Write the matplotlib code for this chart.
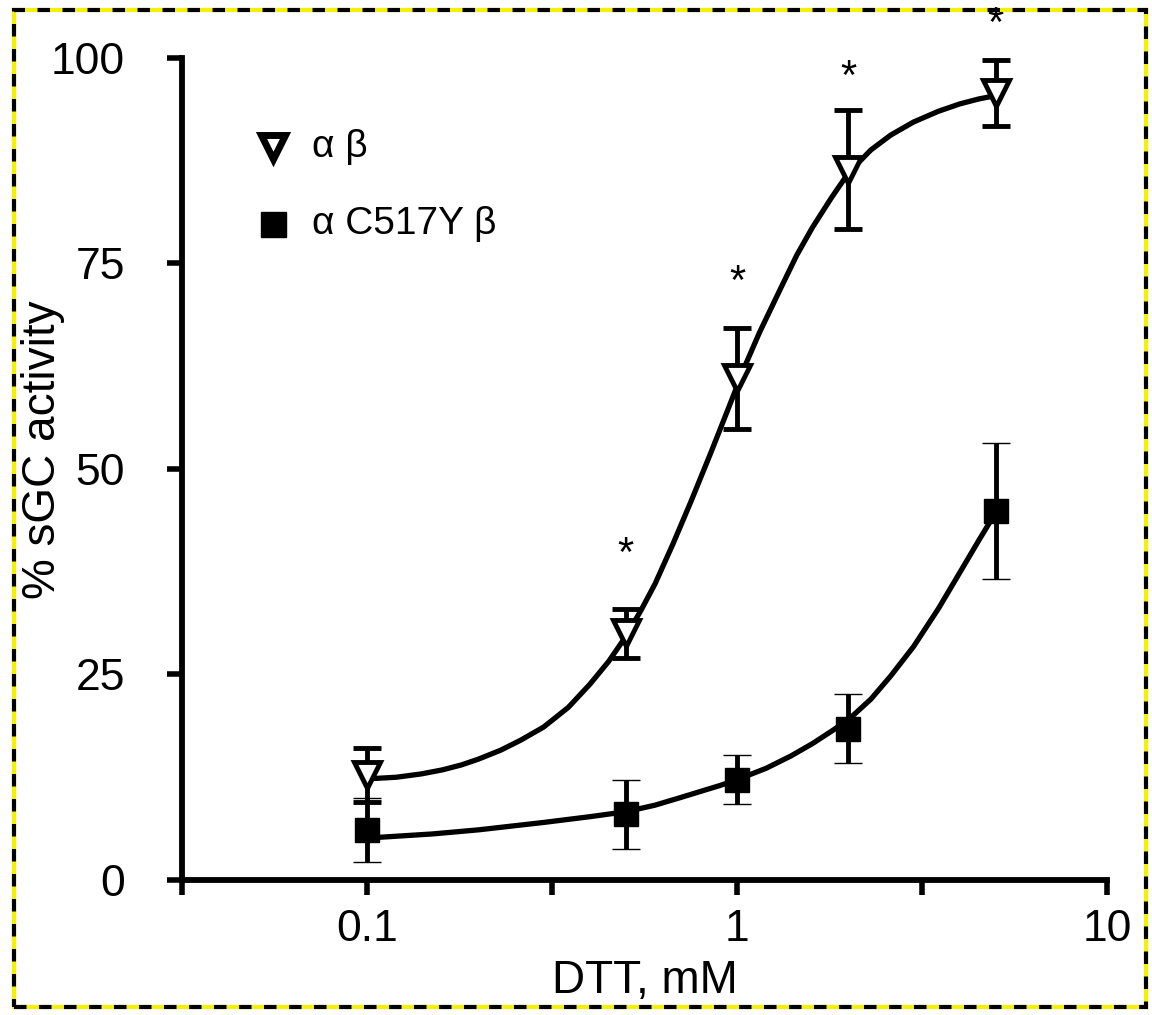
import numpy as np
import matplotlib.pyplot as plt
from matplotlib.patches import Rectangle

plt.rcParams['font.family'] = ['Liberation Sans', 'DejaVu Sans']

# measured points (mean +/- SEM)
dtt = [0.1, 0.5, 1, 2, 5]
wt_mean = [12.8, 30.0, 61.0, 86.4, 95.7]
wt_err = [3.3, 3.0, 6.2, 7.2, 4.0]
mut_mean = [6.1, 8.0, 12.2, 18.4, 44.9]
mut_err = [3.9, 4.2, 3.0, 4.2, 8.3]

# fitted curves
wt_fit_x = [0.1, 0.12, 0.14, 0.16, 0.18, 0.2, 0.23, 0.26, 0.3, 0.35, 0.4, 0.45,
            0.5, 0.55, 0.6, 0.67, 0.75, 0.85, 0.95, 1.05, 1.15, 1.3, 1.45, 1.6,
            1.8, 2.0, 2.3, 2.6, 3.0, 3.5, 4.0, 4.5, 5.0]
wt_fit_y = [12.3, 12.5, 12.9, 13.4, 14.0, 14.7, 15.8, 17.0, 18.6, 21.0, 23.8, 26.6,
            29.6, 32.8, 36.0, 40.8, 46.0, 52.0, 57.5, 62.5, 66.6, 71.6, 76.0, 79.4,
            83.0, 86.0, 88.8, 90.6, 92.2, 93.5, 94.4, 95.0, 95.4]
mut_fit_x = [0.1, 0.15, 0.2, 0.3, 0.4, 0.5, 0.6, 0.7, 0.8, 0.9, 1.0, 1.2, 1.4,
             1.6, 1.8, 2.0, 2.3, 2.6, 3.0, 3.5, 4.0, 4.5, 5.0]
mut_fit_y = [5.1, 5.6, 6.1, 7.0, 7.7, 8.3, 9.1, 10.0, 10.8, 11.5, 12.2, 13.6, 15.1,
             16.6, 18.1, 19.5, 22.0, 24.8, 28.4, 33.0, 37.4, 41.3, 44.7]

# significance marks
star_x = [0.5, 1, 2, 5]
star_y = [39.5, 72.6, 97.6, 104.0]

fig = plt.figure(figsize=(11.52, 10.15), dpi=100)
ax = fig.add_axes([0.158, 0.133, 0.803, 0.810])

ax.plot(wt_fit_x, wt_fit_y, color='black', lw=3.8, zorder=2)
ax.plot(mut_fit_x, mut_fit_y, color='black', lw=3.8, zorder=2)

ax.errorbar(dtt, wt_mean, yerr=wt_err, fmt='v', ms=19, mfc='white', mec='black',
            mew=3.5, ecolor='black', elinewidth=3.5, capsize=10, capthick=3.5,
            zorder=3)
ax.errorbar(dtt, mut_mean, yerr=mut_err, fmt='s', ms=17, mfc='black', mec='black',
            mew=1, ecolor='black', elinewidth=3.5, capsize=10, capthick=3.5,
            zorder=3)

for x, y in zip(star_x, star_y):
    ax.text(x, y, '*', fontsize=30, ha='center', va='center', clip_on=False)

ax.set_xscale('log')
ax.set_xlim(10 ** -1.5, 10)
ax.set_ylim(0, 100)
ax.set_xticks([10 ** -1.5, 0.1, 10 ** -0.5, 1, 10 ** 0.5, 10])
ax.set_xticklabels(['', '0.1', '', '1', '', '10'])
ax.xaxis.set_minor_locator(plt.NullLocator())
ax.set_yticks([0, 25, 50, 75, 100])

for side in ['top', 'right']:
    ax.spines[side].set_visible(False)
for side in ['left', 'bottom']:
    ax.spines[side].set_linewidth(4.2)
ax.tick_params(width=4, length=11, labelsize=32)
ax.tick_params(axis='y', pad=30)
ax.tick_params(axis='x', pad=10)

ax.set_xlabel('DTT, mM', fontsize=33, labelpad=6)
ax.set_ylabel('% sGC activity', fontsize=33)
ax.yaxis.set_label_coords(-0.126, 0.523)

# legend drawn by hand like the original
ax.plot([0.0557], [89.2], 'v', ms=17, mfc='white', mec='black', mew=5, clip_on=False)
ax.text(0.071, 89.2, 'α β', fontsize=28, va='center')
ax.plot([0.0557], [79.8], 's', ms=18, color='black', clip_on=False)
ax.text(0.071, 79.8, 'α C517Y β', fontsize=28, va='center')

# marquee-style frame around the picture
fig.patches.append(Rectangle((0.012, 0.008), 0.983, 0.982, transform=fig.transFigure,
                             fill=False, ec='#f5f000', lw=3))
fig.patches.append(Rectangle((0.012, 0.008), 0.983, 0.982, transform=fig.transFigure,
                             fill=False, ec='black', lw=3, ls=(0, (3, 3))))

fig.savefig('out.png', dpi=100)
